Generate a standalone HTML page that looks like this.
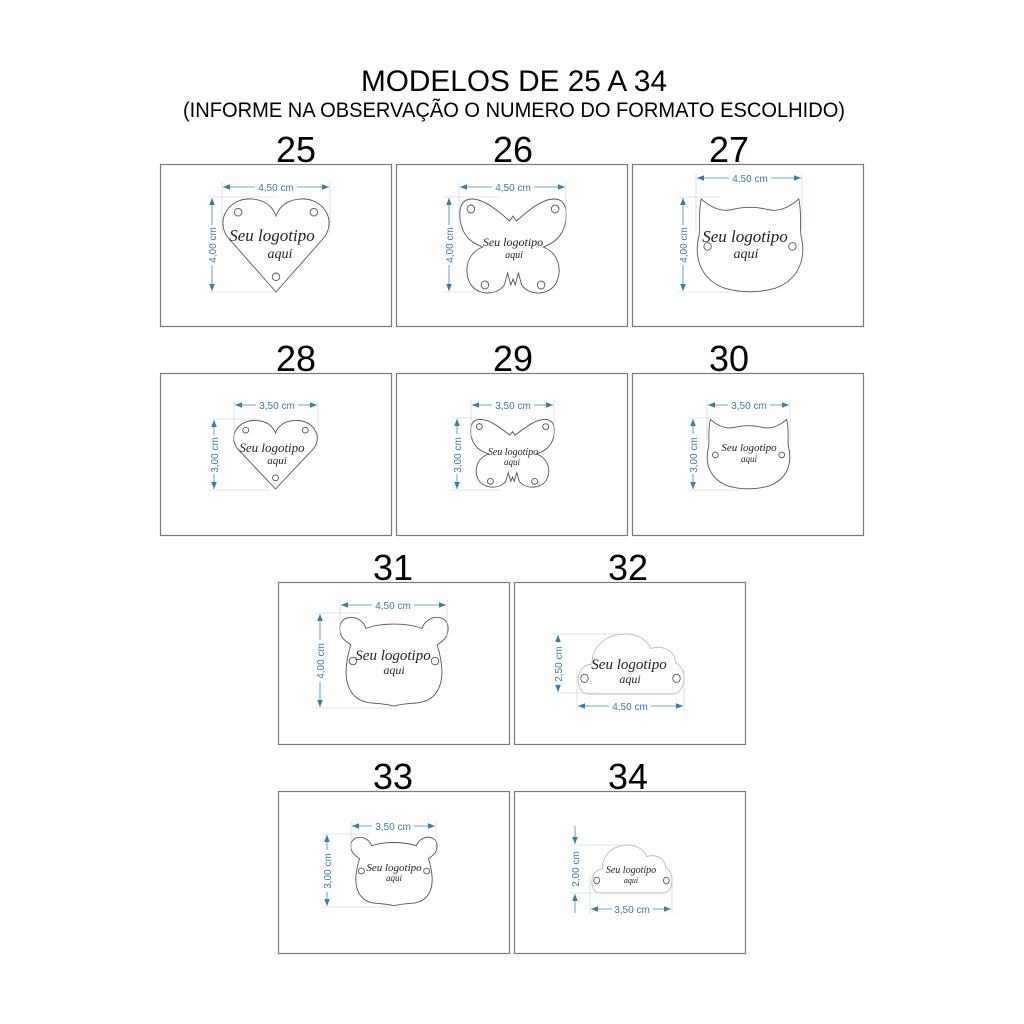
<!DOCTYPE html>
<html><head><meta charset="utf-8"><style>
html,body{margin:0;padding:0;background:#fff;}
svg{display:block;}
.dl{stroke:#4a86ad;stroke-width:0.8;fill:none;}
.ext{stroke:#b8cfdc;stroke-width:0.6;}
.dt{font-family:"Liberation Sans",sans-serif;font-size:10px;fill:#3d7aa6;}
.lg{font-family:"Liberation Serif",serif;font-style:italic;fill:#222;}
.num{font-family:"Liberation Sans",sans-serif;font-size:36px;fill:#000;}
.box{fill:#fff;stroke:#7a7a7a;stroke-width:1.2;}
.sh{fill:#fff;stroke:#555;stroke-width:0.9;}
.cl{fill:#fff;stroke:#bbb;stroke-width:0.9;}
</style></head><body>
<svg width="1024" height="1024" viewBox="0 0 1024 1024" xmlns="http://www.w3.org/2000/svg">
<defs>
<marker id="ae" viewBox="0 0 10 10" refX="10" refY="5" markerWidth="9" markerHeight="7" orient="auto" markerUnits="userSpaceOnUse"><path d="M0,1 L10,5 L0,9 Z" fill="#3d7aa6"/></marker>
<marker id="as" viewBox="0 0 10 10" refX="0" refY="5" markerWidth="9" markerHeight="7" orient="auto" markerUnits="userSpaceOnUse"><path d="M10,1 L0,5 L10,9 Z" fill="#3d7aa6"/></marker>
<symbol id="heart" viewBox="0 0 100 100" preserveAspectRatio="none" overflow="visible">
<path class="sh" vector-effect="non-scaling-stroke" d="M50,100 L5,42 C-6,24 6,1 27,2 C40,3 47,10 50,20 C53,10 60,3 73,2 C94,1 106,24 95,42 Z"/>
<ellipse class="sh" vector-effect="non-scaling-stroke" cx="15" cy="16" rx="3.5" ry="4"/><ellipse class="sh" vector-effect="non-scaling-stroke" cx="85" cy="16" rx="3.5" ry="4"/><ellipse class="sh" vector-effect="non-scaling-stroke" cx="50" cy="84" rx="3.5" ry="4"/>
</symbol>
<symbol id="bfly" viewBox="0 0 100 100" preserveAspectRatio="none" overflow="visible">
<path class="sh" vector-effect="non-scaling-stroke" d="M47,24 L50,19 L53,24 C63,15 76,2 88,2 C99,2 101,14 98,28 C95,40 88,46 78,50 C92,56 96,72 90,86 C84,98 66,100 58,88 L55,76 L52,88 L50,82 L48,88 L45,76 L42,88 C34,100 16,98 10,86 C4,72 8,56 22,50 C12,46 5,40 2,28 C-1,14 1,2 12,2 C24,2 37,15 47,24 Z"/>
<ellipse class="sh" vector-effect="non-scaling-stroke" cx="11" cy="12" rx="3.5" ry="4"/><ellipse class="sh" vector-effect="non-scaling-stroke" cx="89" cy="12" rx="3.5" ry="4"/><ellipse class="sh" vector-effect="non-scaling-stroke" cx="24" cy="88" rx="3.5" ry="4"/><ellipse class="sh" vector-effect="non-scaling-stroke" cx="76" cy="88" rx="3.5" ry="4"/>
</symbol>
<symbol id="cat" viewBox="0 0 100 100" preserveAspectRatio="none" overflow="visible">
<path class="sh" vector-effect="non-scaling-stroke" d="M4,2 C14,12 24,16 34,13 C45,10 55,10 66,13 C76,16 86,12 96,2 C99,18 97,28 98,40 C103,62 98,86 74,96 C58,101 42,101 26,96 C2,86 -3,62 2,40 C3,28 1,18 4,2 Z"/>
<ellipse class="sh" vector-effect="non-scaling-stroke" cx="10" cy="52" rx="3.5" ry="4"/><ellipse class="sh" vector-effect="non-scaling-stroke" cx="90" cy="52" rx="3.5" ry="4"/>
</symbol>
<symbol id="bear" viewBox="0 0 100 100" preserveAspectRatio="none" overflow="visible">
<path class="sh" vector-effect="non-scaling-stroke" d="M24,16 C20,2 2,0 0,14 C-1,26 6,30 10,33 C5,52 2,74 14,87 C24,97 36,92 50,97 C64,92 76,97 86,87 C98,74 95,52 90,33 C94,30 101,26 100,14 C98,0 80,2 76,16 C62,10 38,10 24,16 Z"/>
<ellipse class="sh" vector-effect="non-scaling-stroke" cx="12" cy="50" rx="3.5" ry="4"/><ellipse class="sh" vector-effect="non-scaling-stroke" cx="88" cy="50" rx="3.5" ry="4"/>
</symbol>
<symbol id="cloud" viewBox="0 0 100 100" preserveAspectRatio="none" overflow="visible">
<path class="cl" vector-effect="non-scaling-stroke" d="M10,100 C-2,98 -3,52 14,50 C14,22 26,0 46,0 C58,0 66,12 69,24 C80,18 92,28 92,48 C104,56 102,98 90,100 Z"/>
<ellipse class="sh" vector-effect="non-scaling-stroke" cx="7" cy="74" rx="3.5" ry="7"/><ellipse class="sh" vector-effect="non-scaling-stroke" cx="93" cy="74" rx="3.5" ry="7"/>
</symbol>
</defs>
<rect width="1024" height="1024" fill="#fff"/>
<text x="514" y="91" text-anchor="middle" font-family="Liberation Sans,sans-serif" font-size="30" textLength="306" lengthAdjust="spacingAndGlyphs">MODELOS DE 25 A 34</text>
<text x="514" y="117" text-anchor="middle" font-family="Liberation Sans,sans-serif" font-size="21" textLength="662" lengthAdjust="spacingAndGlyphs">(INFORME NA OBSERVAÇÃO O NUMERO DO FORMATO ESCOLHIDO)</text>

<!-- numbers -->
<g class="num" text-anchor="middle">
<text x="296" y="162" textLength="40" lengthAdjust="spacingAndGlyphs">25</text>
<text x="513" y="162" textLength="40" lengthAdjust="spacingAndGlyphs">26</text>
<text x="729" y="162" textLength="40" lengthAdjust="spacingAndGlyphs">27</text>
<text x="296" y="371" textLength="40" lengthAdjust="spacingAndGlyphs">28</text>
<text x="513" y="371" textLength="40" lengthAdjust="spacingAndGlyphs">29</text>
<text x="729" y="371" textLength="40" lengthAdjust="spacingAndGlyphs">30</text>
<text x="393" y="580" textLength="40" lengthAdjust="spacingAndGlyphs">31</text>
<text x="628" y="580" textLength="40" lengthAdjust="spacingAndGlyphs">32</text>
<text x="393" y="789" textLength="40" lengthAdjust="spacingAndGlyphs">33</text>
<text x="628" y="789" textLength="40" lengthAdjust="spacingAndGlyphs">34</text>
</g>

<!-- boxes -->
<rect class="box" x="160.5" y="164.5" width="231" height="162"/>
<rect class="box" x="396.5" y="164.5" width="231" height="162"/>
<rect class="box" x="632.5" y="164.5" width="231" height="162"/>
<rect class="box" x="160.5" y="373.5" width="231" height="162"/>
<rect class="box" x="396.5" y="373.5" width="231" height="162"/>
<rect class="box" x="632.5" y="373.5" width="231" height="162"/>
<rect class="box" x="278.5" y="582.5" width="231" height="162"/>
<rect class="box" x="514.5" y="582.5" width="231" height="162"/>
<rect class="box" x="278.5" y="791.5" width="231" height="162"/>
<rect class="box" x="514.5" y="791.5" width="231" height="162"/>

<!-- shapes -->
<use href="#heart" x="222" y="197" width="108" height="95"/>
<use href="#bfly" x="459" y="197" width="108" height="100"/>
<use href="#cat" x="697" y="197" width="106" height="95"/>
<use href="#heart" x="233" y="419" width="85" height="70"/>
<use href="#bfly" x="470" y="418" width="85" height="72"/>
<use href="#cat" x="707" y="418" width="83" height="71"/>
<use href="#bear" x="340" y="613" width="108" height="96"/>
<use href="#cloud" x="577" y="634" width="107" height="60"/>
<use href="#bear" x="351" y="834" width="86" height="74"/>
<use href="#cloud" x="591" y="845" width="81" height="48"/>

<!-- logo text -->
<g class="lg" text-anchor="middle">
<text x="272" y="241" font-size="17">Seu logotipo</text><text x="280" y="258" font-size="14">aqui</text>
<text x="513" y="246" font-size="12">Seu logotipo</text><text x="514" y="258" font-size="10">aqui</text>
<text x="745" y="242" font-size="17">Seu logotipo</text><text x="746" y="258" font-size="14">aqui</text>
<text x="272" y="452" font-size="13">Seu logotipo</text><text x="277" y="464" font-size="11">aqui</text>
<text x="513" y="455" font-size="10">Seu logotipo</text><text x="512" y="465" font-size="9">aqui</text>
<text x="749" y="451" font-size="11">Seu logotipo</text><text x="749" y="462" font-size="9">aqui</text>
<text x="393" y="660" font-size="15">Seu logotipo</text><text x="394" y="674" font-size="12">aqui</text>
<text x="629" y="669" font-size="15">Seu logotipo</text><text x="630" y="683" font-size="12">aqui</text>
<text x="394" y="871" font-size="11">Seu logotipo</text><text x="394" y="881" font-size="9">aqui</text>
<text x="631" y="873" font-size="10">Seu logotipo</text><text x="631" y="883" font-size="8">aqui</text>
</g>

<!-- dimensions: extension lines -->
<g class="ext">
<line x1="222" y1="182" x2="222" y2="235"/><line x1="330" y1="182" x2="330" y2="235"/>
<line x1="207" y1="197" x2="275" y2="197"/><line x1="207" y1="292" x2="275" y2="292"/>
<line x1="459" y1="182" x2="459" y2="230"/><line x1="566" y1="182" x2="566" y2="230"/>
<line x1="444" y1="197" x2="500" y2="197"/><line x1="444" y1="292" x2="500" y2="292"/>
<line x1="696" y1="173" x2="696" y2="230"/><line x1="802" y1="173" x2="802" y2="230"/>
<line x1="678" y1="197" x2="720" y2="197"/><line x1="678" y1="292" x2="740" y2="292"/>
<line x1="234" y1="400" x2="234" y2="440"/><line x1="318" y1="400" x2="318" y2="440"/>
<line x1="209" y1="419" x2="260" y2="419"/><line x1="209" y1="490" x2="270" y2="490"/>
<line x1="471" y1="400" x2="471" y2="440"/><line x1="554" y1="400" x2="554" y2="440"/>
<line x1="452" y1="418" x2="490" y2="418"/><line x1="452" y1="490" x2="500" y2="490"/>
<line x1="707" y1="400" x2="707" y2="440"/><line x1="790" y1="400" x2="790" y2="440"/>
<line x1="688" y1="418" x2="720" y2="418"/><line x1="688" y1="490" x2="740" y2="490"/>
<line x1="340" y1="600" x2="340" y2="640"/><line x1="447" y1="600" x2="447" y2="640"/>
<line x1="315" y1="613" x2="360" y2="613"/><line x1="315" y1="708" x2="390" y2="708"/>
<line x1="553" y1="634" x2="620" y2="634"/><line x1="553" y1="693" x2="600" y2="693"/>
<line x1="577" y1="670" x2="577" y2="711"/><line x1="684" y1="670" x2="684" y2="711"/>
<line x1="351" y1="821" x2="351" y2="850"/><line x1="436" y1="821" x2="436" y2="850"/>
<line x1="322" y1="834" x2="370" y2="834"/><line x1="322" y1="907" x2="390" y2="907"/>
<line x1="570" y1="845" x2="620" y2="845"/><line x1="570" y1="893" x2="600" y2="893"/>
<line x1="590" y1="875" x2="590" y2="914"/><line x1="672" y1="875" x2="672" y2="914"/>
</g>

<!-- dimension lines with arrows and labels -->
<g class="dl">
<!-- 25 -->
<line x1="223" y1="187" x2="255" y2="187" marker-start="url(#as)"/><line x1="297" y1="187" x2="329" y2="187" marker-end="url(#ae)"/>
<line x1="212" y1="198" x2="212" y2="225" marker-start="url(#as)"/><line x1="212" y1="265" x2="212" y2="291" marker-end="url(#ae)"/>
<!-- 26 -->
<line x1="460" y1="187" x2="492" y2="187" marker-start="url(#as)"/><line x1="534" y1="187" x2="565" y2="187" marker-end="url(#ae)"/>
<line x1="449" y1="198" x2="449" y2="225" marker-start="url(#as)"/><line x1="449" y1="265" x2="449" y2="291" marker-end="url(#ae)"/>
<!-- 27 -->
<line x1="697" y1="178" x2="729" y2="178" marker-start="url(#as)"/><line x1="771" y1="178" x2="801" y2="178" marker-end="url(#ae)"/>
<line x1="683" y1="198" x2="683" y2="225" marker-start="url(#as)"/><line x1="683" y1="265" x2="683" y2="291" marker-end="url(#ae)"/>
<!-- 28 -->
<line x1="235" y1="405" x2="256" y2="405" marker-start="url(#as)"/><line x1="298" y1="405" x2="317" y2="405" marker-end="url(#ae)"/>
<line x1="214" y1="420" x2="214" y2="435" marker-start="url(#as)"/><line x1="214" y1="474" x2="214" y2="489" marker-end="url(#ae)"/>
<!-- 29 -->
<line x1="472" y1="405" x2="492" y2="405" marker-start="url(#as)"/><line x1="534" y1="405" x2="553" y2="405" marker-end="url(#ae)"/>
<line x1="457" y1="419" x2="457" y2="434" marker-start="url(#as)"/><line x1="457" y1="474" x2="457" y2="489" marker-end="url(#ae)"/>
<!-- 30 -->
<line x1="708" y1="405" x2="728" y2="405" marker-start="url(#as)"/><line x1="770" y1="405" x2="789" y2="405" marker-end="url(#ae)"/>
<line x1="693" y1="419" x2="693" y2="434" marker-start="url(#as)"/><line x1="693" y1="474" x2="693" y2="489" marker-end="url(#ae)"/>
<!-- 31 -->
<line x1="341" y1="605" x2="372" y2="605" marker-start="url(#as)"/><line x1="414" y1="605" x2="446" y2="605" marker-end="url(#ae)"/>
<line x1="320" y1="614" x2="320" y2="640" marker-start="url(#as)"/><line x1="320" y1="682" x2="320" y2="707" marker-end="url(#ae)"/>
<!-- 32 -->
<line x1="578" y1="706" x2="609" y2="706" marker-start="url(#as)"/><line x1="651" y1="706" x2="683" y2="706" marker-end="url(#ae)"/>
<line x1="558" y1="635" x2="558" y2="643" marker-start="url(#as)"/><line x1="558" y1="684" x2="558" y2="692" marker-end="url(#ae)"/>
<!-- 33 -->
<line x1="352" y1="826" x2="372" y2="826" marker-start="url(#as)"/><line x1="414" y1="826" x2="435" y2="826" marker-end="url(#ae)"/>
<line x1="327" y1="835" x2="327" y2="850" marker-start="url(#as)"/><line x1="327" y1="892" x2="327" y2="906" marker-end="url(#ae)"/>
<!-- 34 -->
<line x1="591" y1="909" x2="612" y2="909" marker-start="url(#as)"/><line x1="653" y1="909" x2="671" y2="909" marker-end="url(#ae)"/>
<line x1="575" y1="826" x2="575" y2="844" marker-end="url(#ae)"/><line x1="575" y1="913" x2="575" y2="894" marker-end="url(#ae)"/>
</g>
<g class="dt" text-anchor="middle">
<text x="276" y="191">4,50 cm</text>
<text x="513" y="191">4,50 cm</text>
<text x="750" y="182">4,50 cm</text>
<text x="277" y="409">3,50 cm</text>
<text x="513" y="409">3,50 cm</text>
<text x="749" y="409">3,50 cm</text>
<text x="393" y="609">4,50 cm</text>
<text x="630" y="710">4,50 cm</text>
<text x="393" y="830">3,50 cm</text>
<text x="632" y="913">3,50 cm</text>
<text transform="translate(216,245) rotate(-90)">4,00 cm</text>
<text transform="translate(453,245) rotate(-90)">4,00 cm</text>
<text transform="translate(687,245) rotate(-90)">4,00 cm</text>
<text transform="translate(218,455) rotate(-90)">3,00 cm</text>
<text transform="translate(461,455) rotate(-90)">3,00 cm</text>
<text transform="translate(697,455) rotate(-90)">3,00 cm</text>
<text transform="translate(324,661) rotate(-90)">4,00 cm</text>
<text transform="translate(562,664) rotate(-90)">2,50 cm</text>
<text transform="translate(331,871) rotate(-90)">3,00 cm</text>
<text transform="translate(579,869) rotate(-90)">2,00 cm</text>
</g>
</svg>
</body></html>
